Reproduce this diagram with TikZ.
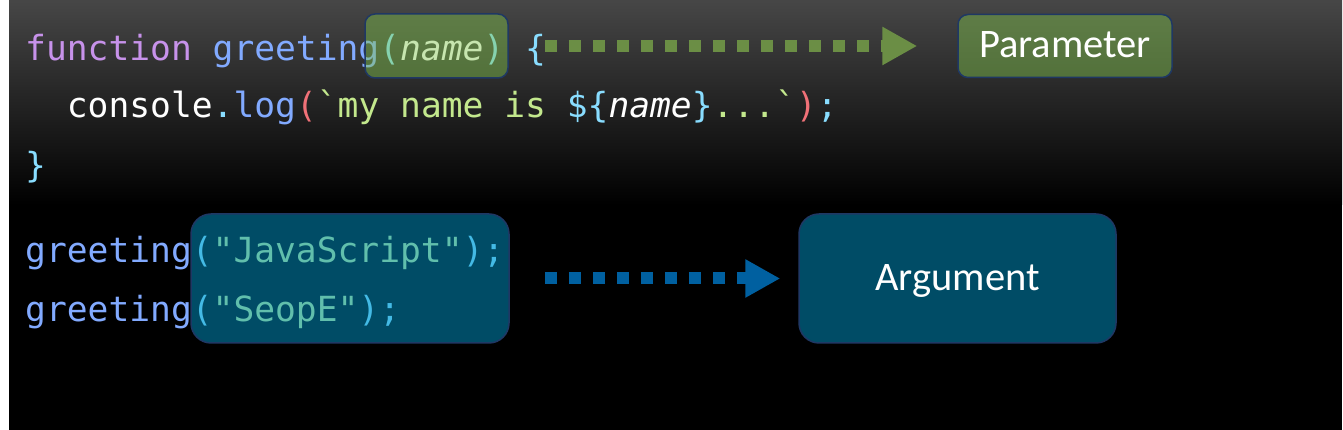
\documentclass[tikz,border=0pt]{standalone}
\usepackage{fontspec}
\setmonofont{DejaVu Sans Mono}
\newfontfamily\labelfont{Carlito}
\usetikzlibrary{positioning, arrows.meta, calc}

\definecolor{kwpurple}{RGB}{199,146,234}
\definecolor{fnblue}{RGB}{130,170,255}
\definecolor{punctblue}{RGB}{137,221,255}
\definecolor{strgreen}{RGB}{195,232,141}
\definecolor{parenred}{RGB}{240,113,120}
\definecolor{paramgreen}{RGB}{131,198,78}
\definecolor{argblue}{RGB}{0,152,204}
\definecolor{boxedge}{RGB}{31,56,100}
\definecolor{arrowgreen}{RGB}{107,142,69}
\definecolor{arrowblue}{RGB}{0,96,160}
\definecolor{bgtop}{RGB}{70,70,70}

\newcommand{\kw}[1]{\textcolor{kwpurple}{#1}}
\newcommand{\fn}[1]{\textcolor{fnblue}{#1}}
\newcommand{\pu}[1]{\textcolor{punctblue}{#1}}
\newcommand{\str}[1]{\textcolor{strgreen}{#1}}
\newcommand{\rp}[1]{\textcolor{parenred}{#1}}

\tikzset{
  codeline/.style={anchor=base west, inner sep=0pt, text=white,
    font=\ttfamily\fontsize{34.6}{40}\selectfont},
  parbox/.style={draw=boxedge, line width=1.5pt, fill=paramgreen, fill opacity=0.45,
    text opacity=1, rounded corners=10pt, text=white, inner sep=0pt},
  argbox/.style={draw=boxedge, line width=1.5pt, fill=argblue, fill opacity=0.5,
    text opacity=1, rounded corners=20pt, text=white, inner sep=0pt},
  dotarrow/.style={draw=#1, line width=12pt, dash pattern=on 12pt off 12pt,
    -{Triangle[length=35pt, width=36pt, fill=#1]}},
  tag/.style={font=\labelfont\fontsize{40.5}{48}\selectfont,
    text height=24pt, text depth=0pt}
}

\begin{document}
\begin{tikzpicture}[x=1pt, y=1pt]
  \useasboundingbox (0,0) rectangle (1343,430);
  % background
  \fill[white] (0,0) rectangle (1343,430);
  \shade[top color=bgtop, bottom color=black] (9,225) rectangle (1342,429);
  \fill[black] (9,0) rectangle (1342,225.5);

  % code
  \node[codeline] (fnline) at (25,369)
    {\kw{function} \fn{greeting}\pu{(}\textit{name}\pu{)} \pu{\{}};
  \node[codeline] (logline) at (66.7,312)
    {console\pu{.}\fn{log}\rp{(}\str{\textasciigrave my name is }\pu{\$\{}\textit{name}\pu{\}}\str{...\textasciigrave}\rp{)}\pu{;}};
  \node[codeline] (closeline) at (25,252) {\pu{\}}};
  \node[codeline] (callone) at (25,167)
    {\fn{greeting}\pu{(}\str{"JavaScript"}\pu{);}};
  \node[codeline] (calltwo) at (25,108)
    {\fn{greeting}\pu{(}\str{"SeopE"}\pu{);}};

  % highlight boxes
  \node[parbox, minimum width=143pt, minimum height=64pt] (namebox) at (436.5,384) {};
  \node[argbox, minimum width=318pt, minimum height=129pt] (codebox) at (350,151.5) {};

  % labels
  \node[parbox, tag, minimum width=214pt, minimum height=63pt] (param) at (1065,384) {Parameter};
  \node[argbox, tag, minimum width=317pt, minimum height=129pt] (arg) at (957.5,151.5) {Argument};

  % arrows
  \draw[dotarrow=arrowgreen, shorten <=36pt, shorten >=40pt]
    (namebox.east) -- (namebox.east -| param.west);
  \draw[dotarrow=arrowblue, shorten <=35pt, shorten >=18pt]
    (codebox.east) -- (codebox.east -| arg.west);
\end{tikzpicture}
\end{document}
